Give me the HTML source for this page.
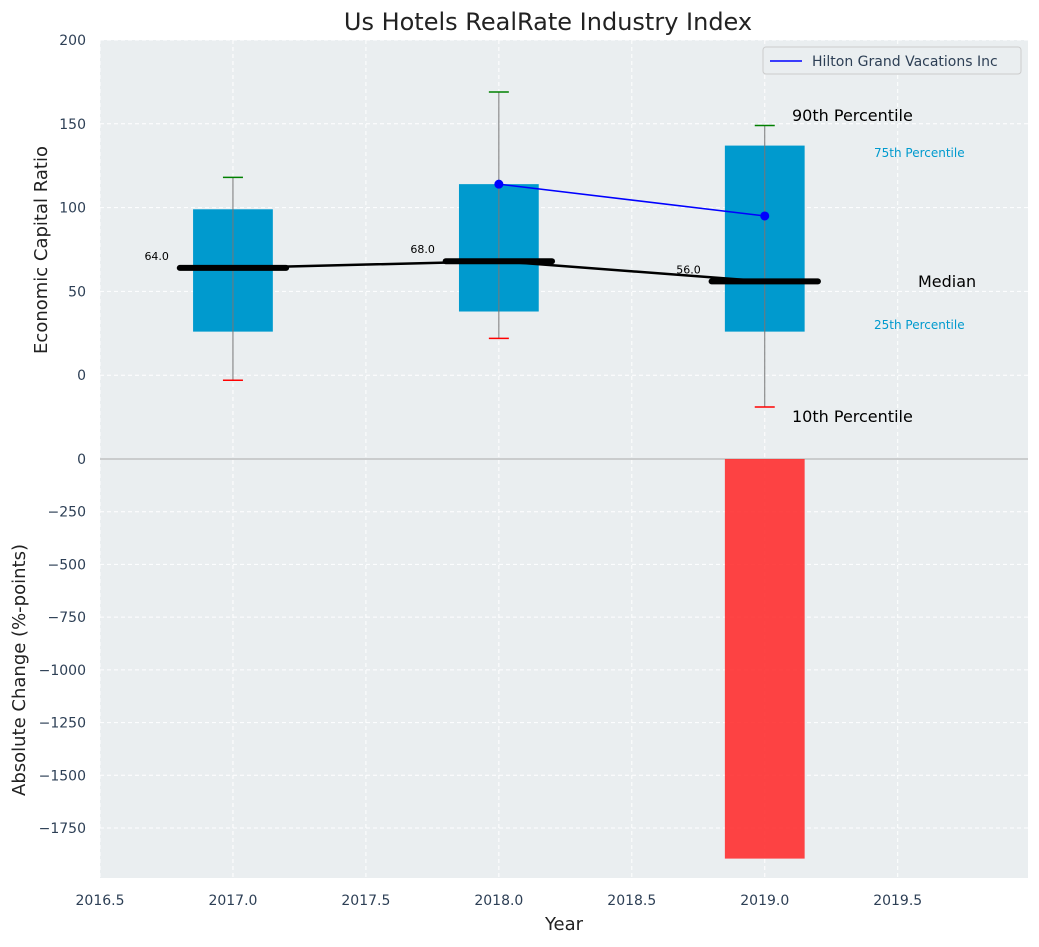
<!DOCTYPE html>
<html><head><meta charset="utf-8"><style>
body{margin:0;background:#fff;font-family:"Liberation Sans","DejaVu Sans",sans-serif}
svg text{font-family:"DejaVu Sans","Liberation Sans",sans-serif}
</style></head><body>
<svg id="c" width="1039" height="942" xmlns="http://www.w3.org/2000/svg"></svg>
<script>
const years=[2017,2018,2019];
const p10=[-3,22,-19];
const p25=[26,38,26];
const p50=[64,68,56];
const p75=[99,114,137];
const p90=[118,169,149];
const hiltonYears=[2018,2019];
const hiltonVals=[114,95];
const changeYears=[2019];
const changeVals=[-1895];
const xTicks=[2016.5,2017,2017.5,2018,2018.5,2019,2019.5];
const yTopTicks=[0,50,100,150,200];
const yBotTicks=[0,-250,-500,-750,-1000,-1250,-1500,-1750];

const NS="http://www.w3.org/2000/svg";
const svg=document.getElementById('c');
function el(t,a,txt){const e=document.createElementNS(NS,t);for(const k in a)e.setAttribute(k,a[k]);if(txt!==undefined)e.textContent=txt;svg.appendChild(e);return e;}
const L=100,R=1028,T1=40,B1=459,T2=459,B2=878;
const X=v=>L+(v-2016.5)/(2019.99-2016.5)*(R-L);
const Y1=v=>T1+(200-v)/250*(B1-T1);
const Y2=v=>T2+(0-v)/1987*(B2-T2);
const fmt=v=>v<0?'\u2212'+Math.abs(v):String(v);
const BW=X(2016.8)-X(2016.5);

let e;
e=el('rect',{x:L,y:T1,width:R-L,height:B1-T1,fill:'#eaeef0'});

e=el('rect',{x:L,y:T2,width:R-L,height:B2-T2,fill:'#eaeef0'});

xTicks.forEach(t=>{
 e=el('line',{x1:X(t),x2:X(t),y1:T1,y2:B2,stroke:'#fff','stroke-dasharray':'4,3','stroke-width':1});
 
 e=el('text',{x:X(t),y:905,'text-anchor':'middle','font-size':14,fill:'#2d3f55'},t.toFixed(1));
 
});
yTopTicks.forEach(t=>{
 e=el('line',{x1:L,x2:R,y1:Y1(t),y2:Y1(t),stroke:'#fff','stroke-dasharray':'4,3'});
 
 e=el('text',{x:86,y:Y1(t)+5,'text-anchor':'end','font-size':14,fill:'#2d3f55'},fmt(t));
 
});
yBotTicks.forEach(t=>{
 e=el('line',{x1:L,x2:R,y1:Y2(t),y2:Y2(t),stroke:'#fff','stroke-dasharray':'4,3'});
 
 e=el('text',{x:86,y:Y2(t)+5,'text-anchor':'end','font-size':14,fill:'#2d3f55'},fmt(t));
 
});
e=el('line',{x1:L,x2:R,y1:Y2(0),y2:Y2(0),stroke:'#aaa','stroke-width':1});

years.forEach((y,i)=>{
 const cx=X(y);
 e=el('rect',{x:cx-BW/2,y:Y1(p75[i]),width:BW,height:Y1(p25[i])-Y1(p75[i]),fill:'#009ace'});
 
 e=el('line',{x1:cx,x2:cx,y1:Y1(p90[i]),y2:Y1(p10[i]),stroke:'#777','stroke-width':1});
 
 e=el('line',{x1:cx-10,x2:cx+10,y1:Y1(p90[i]),y2:Y1(p90[i]),stroke:'green','stroke-width':1.5});
 
 e=el('line',{x1:cx-10,x2:cx+10,y1:Y1(p10[i]),y2:Y1(p10[i]),stroke:'red','stroke-width':1.5});
 
});
e=el('polyline',{points:years.map((y,i)=>X(y)+','+Y1(p50[i])).join(' '),fill:'none',stroke:'#000','stroke-width':2.5});

years.forEach((y,i)=>{
 const hw=X(2016.7)-X(2016.5);
 e=el('line',{x1:X(y)-hw,x2:X(y)+hw,y1:Y1(p50[i]),y2:Y1(p50[i]),stroke:'#000','stroke-width':6,'stroke-linecap':'round'});
 
 e=el('text',{x:X(y)-64,y:Y1(p50[i])-8,'text-anchor':'end','font-size':11,fill:'#000'},p50[i].toFixed(1));
 
});
e=el('polyline',{points:hiltonYears.map((y,i)=>X(y)+','+Y1(hiltonVals[i])).join(' '),fill:'none',stroke:'blue','stroke-width':1.5});

hiltonYears.forEach((y,i)=>{
 e=el('circle',{cx:X(y),cy:Y1(hiltonVals[i]),r:4.5,fill:'blue'});
 
});
changeYears.forEach((y,i)=>{
 e=el('rect',{x:X(y)-BW/2,y:Y2(0),width:BW,height:Y2(changeVals[i])-Y2(0),fill:'#ff2a2a','fill-opacity':0.88});
 
});
const ann=[[792,121,'90th Percentile',16,'#000'],[874,157,'75th Percentile',12,'#009ace'],[918,287,'Median',16,'#000'],[874,329,'25th Percentile',12,'#009ace'],[792,422,'10th Percentile',16,'#000']];
ann.forEach(a=>{e=el('text',{x:a[0],y:a[1],'font-size':a[3],fill:a[4]},a[2]);
 });
e=el('rect',{x:763,y:47,width:258,height:27,fill:'#eaeef0',stroke:'#ccc',rx:3});

e=el('line',{x1:770,x2:802,y1:61,y2:61,stroke:'blue','stroke-width':1.5});

e=el('text',{x:812,y:66,'font-size':14,fill:'#2d3f55'},'Hilton Grand Vacations Inc');

e=el('text',{x:548,y:30,'text-anchor':'middle','font-size':24,fill:'#222'},'Us Hotels RealRate Industry Index');

e=el('text',{x:564,y:930,'text-anchor':'middle','font-size':18,fill:'#222'},'Year');

e=el('text',{x:0,y:0,'text-anchor':'middle','font-size':18,fill:'#222',transform:'translate(47,250) rotate(-90)'},'Economic Capital Ratio');

e=el('text',{x:0,y:0,'text-anchor':'middle','font-size':18,fill:'#222',transform:'translate(25,670) rotate(-90)'},'Absolute Change (%-points)');

</script>
</body></html>
